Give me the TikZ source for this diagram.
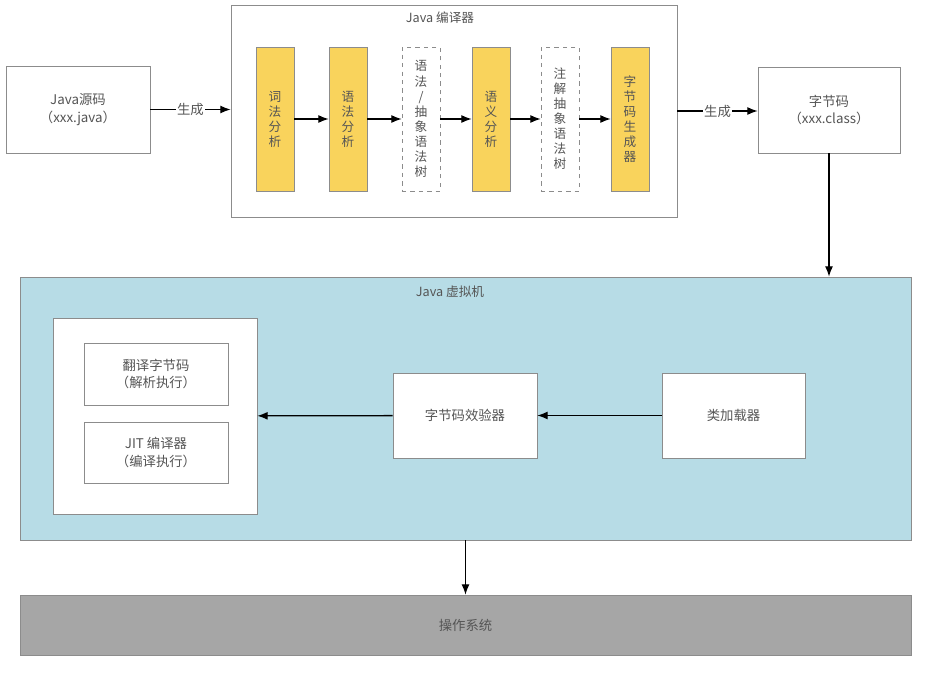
\documentclass[tikz,border=0pt]{standalone}
\usepackage{fontspec}
\setmainfont{Noto Sans CJK SC}
\usepackage{xcolor}
\usepackage{tikz}
\usetikzlibrary{positioning,calc,arrows.meta}

\definecolor{linegray}{HTML}{8C8C8C}
\definecolor{txtgray}{HTML}{555555}
\definecolor{stepyellow}{HTML}{F9D35C}
\definecolor{jvmblue}{HTML}{B7DCE6}
\definecolor{osgray}{HTML}{A6A6A6}

\tikzset{
 box/.style={draw=linegray,fill=white,inner sep=0pt,align=center,text=txtgray,font=\fontsize{9.5}{12.5}\selectfont},
 ybox/.style={box,fill=stepyellow,minimum width=0.95cm,minimum height=3.6cm,font=\fontsize{9}{10.7}\selectfont},
 dbox/.style={ybox,fill=white,dashed},
 arr/.style={-{Latex[length=2.6mm,width=2mm]},line width=0.9pt,black},
 lbl/.style={fill=white,inner sep=1pt,text=txtgray,font=\fontsize{9.5}{11}\selectfont}
}

\begin{document}
\begin{tikzpicture}[x=0.025cm,y=-0.025cm]
 \useasboundingbox (0,0) rectangle (929,690);
 % compiler part
 \node[box,minimum width=3.6cm,minimum height=2.175cm] (src) at (78,109.5) {Java源码\\（xxx.java）};
 \node[box,minimum width=11.15cm,minimum height=5.3cm] (comp) at (454,111) {};
 \node[text=txtgray,font=\fontsize{9}{11}\selectfont] (compt) at (440,18) {Java 编译器};
 \node[ybox] (lex) at (275,119) {词\\法\\分\\析};
 \node[ybox] (syn) at (348,119) {语\\法\\分\\析};
 \node[dbox] (ast) at (421,119) {语\\法\\/\\抽\\象\\语\\法\\树};
 \node[ybox] (sem) at (491,119) {语\\义\\分\\析};
 \node[dbox] (aast) at (560,119) {注\\解\\抽\\象\\语\\法\\树};
 \node[ybox] (gen) at (630,119) {字\\节\\码\\生\\成\\器};
 \node[box,minimum width=3.55cm,minimum height=2.15cm] (cls) at (829,110) {字节码\\（xxx.class）};
 \draw[arr] (src.east) -- node[lbl]{生成} (src.east -| comp.west);
 \draw[arr] (lex) -- (syn);
 \draw[arr] (syn) -- (ast);
 \draw[arr] (ast) -- (sem);
 \draw[arr] (sem) -- (aast);
 \draw[arr] (aast) -- (gen);
 \draw[arr] (comp.east) -- node[lbl]{生成} (comp.east -| cls.west);

 % virtual machine
 \node[box,fill=jvmblue,minimum width=22.275cm,minimum height=6.575cm] (jvm) at (465.5,408.5) {};
 \node[text=txtgray,font=\fontsize{9}{11}\selectfont] (jvmt) at (450,292) {Java 虚拟机};
 \node[box,minimum width=5.1cm,minimum height=4.9cm] (exec) at (155,416) {};
 \node[box,minimum width=3.6cm,minimum height=1.55cm] (interp) at (156,374) {翻译字节码\\（解析执行）};
 \node[box,minimum width=3.6cm,minimum height=1.525cm] (jit) at (156,452.5) {JIT 编译器\\（编译执行）};
 \node[box,minimum width=3.6cm,minimum height=2.125cm] (ver) at (465,415.5) {字节码效验器};
 \node[box,minimum width=3.575cm,minimum height=2.125cm] (load) at (733.5,415.5) {类加载器};
 \draw[arr] (cls.south) -- (cls.south |- jvm.north);
 \draw[arr] (load) -- (ver);
 \draw[arr] (ver) -- (exec);

 % os
 \node[box,fill=osgray,minimum width=22.275cm,minimum height=1.5cm] (os) at (465.5,625) {操作系统};
 \draw[arr] (jvm.south) -- (os.north);
\end{tikzpicture}
\end{document}
